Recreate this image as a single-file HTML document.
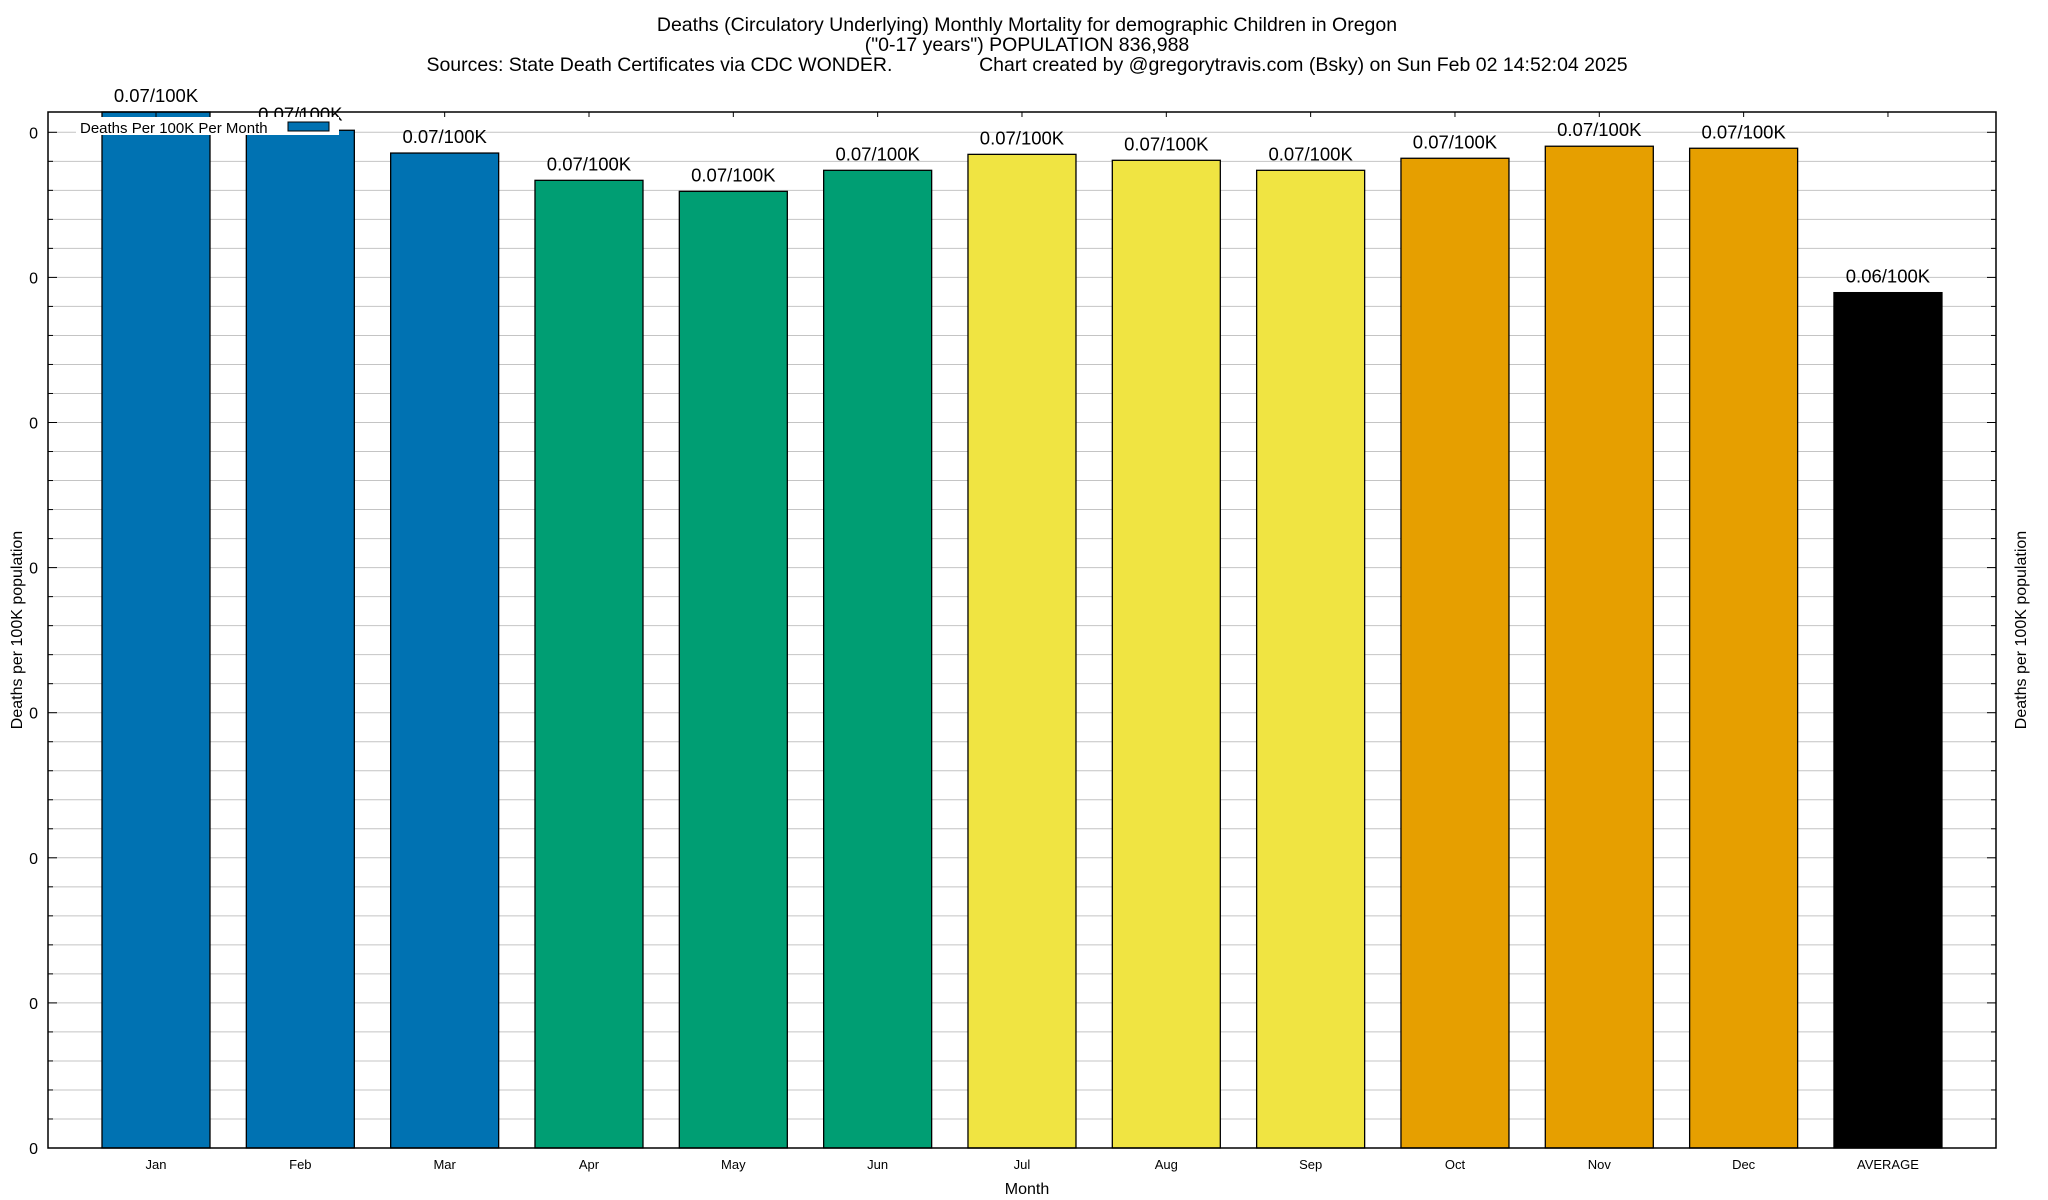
<!DOCTYPE html>
<html><head><meta charset="utf-8"><style>
body{margin:0;background:#fff;}
svg{display:block;font-family:"Liberation Sans",Arial,sans-serif;}
</style></head><body>
<svg id="chart" width="2048" height="1200" viewBox="0 0 2048 1200">
<rect x="0" y="0" width="2048" height="1200" fill="#fff"/>
<g font-size="19.5" text-anchor="middle">
<text x="1027" y="31">Deaths (Circulatory Underlying) Monthly Mortality for demographic Children in Oregon</text>
<text x="1027" y="51">("0-17 years") POPULATION 836,988</text>
<text x="1027" y="71" xml:space="preserve" style="white-space:pre">Sources: State Death Certificates via CDC WONDER.                Chart created by @gregorytravis.com (Bsky) on Sun Feb 02 14:52:04 2025</text>
</g>
<g id="grid"></g>
<g id="bars"></g>
<g id="axes"></g>
<text x="22" y="630" font-size="16" text-anchor="middle" transform="rotate(-90 22 630)">Deaths per 100K population</text>
<text x="2026" y="630" font-size="16" text-anchor="middle" transform="rotate(-90 2026 630)">Deaths per 100K population</text>
<text x="1027" y="1194" font-size="16" text-anchor="middle">Month</text>
<g>
<rect x="76" y="117" width="263" height="18" fill="#fff"/>
<text x="80" y="133" font-size="15">Deaths Per 100K Per Month</text>
<rect x="288" y="122" width="41" height="9" fill="#0072b2" stroke="#000" stroke-width="1"/>
</g>
</svg>
<script>
const categories=["Jan","Feb","Mar","Apr","May","Jun","Jul","Aug","Sep","Oct","Nov","Dec","AVERAGE"];
const values=[0.0714,0.07014,0.06857,0.06669,0.06593,0.06738,0.06848,0.06807,0.06738,0.06821,0.06904,0.06890,0.05895];
const valueLabels=["0.07/100K","0.07/100K","0.07/100K","0.07/100K","0.07/100K","0.07/100K","0.07/100K","0.07/100K","0.07/100K","0.07/100K","0.07/100K","0.07/100K","0.06/100K"];
const barColors=["#0072b2","#0072b2","#0072b2","#009e73","#009e73","#009e73","#f0e442","#f0e442","#f0e442","#e69f00","#e69f00","#e69f00","#000000"];
const yTicks=[0,0.01,0.02,0.03,0.04,0.05,0.06,0.07];
const yTickLabels=["0","0","0","0","0","0","0","0"];

const NS="http://www.w3.org/2000/svg";
const L=48,R=1996,T=112,B=1148;
const yMax=0.07+ (132.3-112)/145.1*0.01;
function y(v){return B-(v/yMax)*(B-T);}
function xc(i){return 156+i*144.33;}
const BW=108;
function mk(tag,attrs,parent){const e=document.createElementNS(NS,tag);for(const k in attrs)e.setAttribute(k,attrs[k]);parent.appendChild(e);return e;}
const grid=document.getElementById('grid'),bars=document.getElementById('bars'),axes=document.getElementById('axes');
const step=yTicks[1]-yTicks[0];
for(let v=0;v<=yMax+1e-9;v+=step/5){
  const yy=y(v);
  const g=mk('line',{x1:L,x2:R,y1:yy,y2:yy,stroke:'#c4c4c4','stroke-width':1},grid);
  
  
  const major=Math.abs(v/step-Math.round(v/step))<1e-6;
  const len=major?9:5;
  const t1=mk('line',{x1:L,x2:L+len,y1:yy,y2:yy,stroke:'#000'},axes);
  
  
  const t2=mk('line',{x1:R-len,x2:R,y1:yy,y2:yy,stroke:'#000'},axes);
  
  
}
yTicks.forEach((v,i)=>{
  const t=mk('text',{x:38,y:y(v)+6,'font-size':16,'text-anchor':'end'},axes);
  t.textContent=yTickLabels[i];
  
  
});
categories.forEach((c,i)=>{
  const yt=Math.max(y(values[i]),T-4);
  const r=mk('rect',{x:xc(i)-BW/2,y:yt,width:BW,height:B-yt,fill:barColors[i],stroke:'#000','stroke-width':1.3},bars);
  
  
  const lt=mk('text',{x:xc(i),y:yt-10,'font-size':18.5,'text-anchor':'middle'},bars);
  lt.textContent=valueLabels[i];
  
  
  const xl=mk('text',{x:xc(i),y:1169,'font-size':13,'text-anchor':'middle'},axes);
  xl.textContent=c;
  
  
  const tt=mk('line',{x1:xc(i),x2:xc(i),y1:T,y2:T+5,stroke:'#000'},axes);
  
  
});
const fr=mk('rect',{x:L,y:T,width:R-L,height:B-T,fill:'none',stroke:'#000','stroke-width':1.5},axes);


</script>
</body></html>
